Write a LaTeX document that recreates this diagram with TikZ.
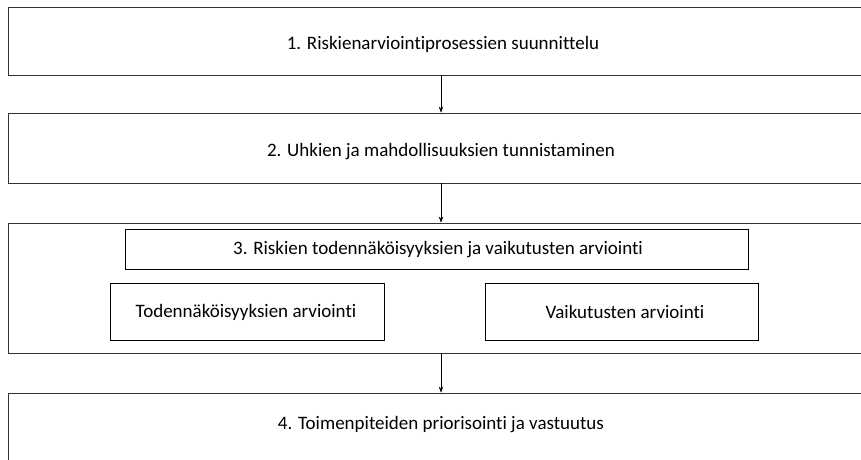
\documentclass[tikz,border=0pt]{standalone}
\usepackage{fontspec}
\setmainfont[Ligatures=NoCommon]{Carlito}
\usetikzlibrary{arrows.meta}
\tikzset{
  stage/.style={draw=black!80, line width=0.8pt, minimum width=866pt, inner sep=0pt},
  inner/.style={draw=black, line width=0.8pt, inner sep=0pt},
  flow/.style={-{Stealth[length=6pt,width=4.5pt]}, line width=0.6pt},
  lbl/.style={font=\fontsize{19}{22}\selectfont, inner sep=0pt}
}
\begin{document}
\begin{tikzpicture}[x=1pt,y=-1pt]
\clip (0,0) rectangle (861,459);
\fill[white] (0,0) rectangle (861,459);
% stage boxes, running past the right edge
\node[stage, minimum height=68pt] (s1) at (441,41) {};
\node[stage, minimum height=70pt] (s2) at (441,148) {};
\node[stage, minimum height=130pt] (s3) at (441,288) {};
\node[stage, minimum height=100pt] (s4) at (441,443) {};
% boxes inside stage 3
\node[inner, minimum width=623pt, minimum height=40pt] (t3) at (436.5,249) {};
\node[inner, minimum width=274pt, minimum height=57pt] (p3) at (247,311.5) {};
\node[inner, minimum width=273pt, minimum height=57pt] (v3) at (621.5,311.5) {};
% texts
\node[lbl] (l1) at (443,44) {1. Riskienarviointiprosessien suunnittelu};
\node[lbl] (l2) at (441,152) {2. Uhkien ja mahdollisuuksien tunnistaminen};
\node[lbl] (l3) at (438,250) {3. Riskien todennäköisyyksien ja vaikutusten arviointi};
\node[lbl] (lp) at (246,312) {Todennäköisyyksien arviointi};
\node[lbl] (lv) at (625,312) {Vaikutusten arviointi};
\node[lbl] (l4) at (441,425) {4. Toimenpiteiden priorisointi ja vastuutus};
% connectors
\draw[flow] (s1.south) -- (s2.north);
\draw[flow] (s2.south) -- (s3.north);
\draw[flow] (s3.south) -- (s4.north);
\end{tikzpicture}
\end{document}
